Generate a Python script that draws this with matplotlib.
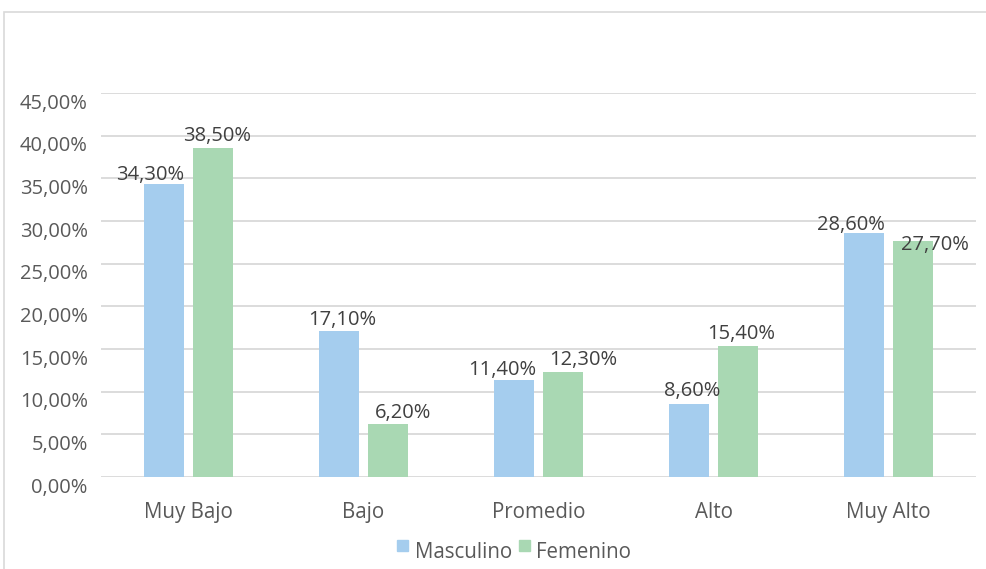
import matplotlib
matplotlib.use("Agg")
import matplotlib.pyplot as plt
from matplotlib.patches import Rectangle
from matplotlib.ticker import FuncFormatter
from matplotlib.transforms import ScaledTranslation
import numpy as np

categories = ["Muy Bajo", "Bajo", "Promedio", "Alto", "Muy Alto"]
masculino = [34.30, 17.10, 11.40, 8.60, 28.60]
femenino = [38.50, 6.20, 12.30, 15.40, 27.70]
series_names = ["Masculino", "Femenino"]

# label nudges (pixels) so neighbouring value labels don't collide
nudge_m = [(-14, 9), (3, 11), (-12, 10), (3, 13), (-13, 8)]
nudge_f = [(4, 12), (15, 11), (20, 12), (3, 12), (22, -4)]

blue = "#A5CDEE"
green = "#A9D8B3"
text_color = "#595959"
value_color = "#404040"
grid_color = "#D9D9D9"

plt.rcParams["font.family"] = ["Open Sans", "DejaVu Sans"]

W, H = 986, 569
fig = plt.figure(figsize=(W / 100, H / 100), dpi=100)

def fx(px):
    return px / W

def fy(py):
    return 1 - py / H

# chart-area border
fig.patches.append(Rectangle((fx(4), -0.05), 1.1, fy(12) + 0.05,
                             transform=fig.transFigure, fill=False,
                             edgecolor="#D9D9D9", linewidth=1.2))

ax = fig.add_axes([fx(101), fy(477), 875 / W, 384 / H])

x = np.arange(len(categories))
bw = 0.2286
off = 0.14
xm = x - off
xf = x + off
ax.bar(xm, masculino, width=bw, color=blue, zorder=2)
ax.bar(xf, femenino, width=bw, color=green, zorder=2)

def fmt(v):
    return f"{v:.2f}".replace(".", ",") + "%"

fs_num = 14.5
fs_txt = 14.8
for xs, vals, nudges in ((xm, masculino, nudge_m), (xf, femenino, nudge_f)):
    for xi, v, (dx, dy) in zip(xs, vals, nudges):
        ax.annotate(fmt(v), (xi, v), xytext=(dx, dy), textcoords="offset pixels",
                    ha="center", va="center", fontsize=fs_num,
                    color=value_color, zorder=3)

ax.set_xlim(-0.5, len(categories) - 0.5)
ax.set_ylim(0, 45)
ax.set_yticks(np.arange(0, 45.1, 5))
ax.yaxis.set_major_formatter(FuncFormatter(lambda v, p: fmt(v)))
ax.set_xticks(x)
ax.set_xticklabels(categories)
ax.tick_params(axis="y", length=0, labelsize=fs_num, colors=text_color, pad=9.5)
ax.tick_params(axis="x", length=0, labelsize=fs_txt, colors=text_color, pad=18)
ax.grid(axis="y", color=grid_color, linewidth=1.3, zorder=0)
for s in ax.spines.values():
    s.set_visible(False)

shift = ScaledTranslation(0, -8 / 100, fig.dpi_scale_trans)
for t in ax.yaxis.get_major_ticks():
    t.label1.set_transform(t.label1.get_transform() + shift)

# legend: small squares with series names
legend_items = [(397, 415, blue), (519, 536, green)]
for (sq_x, tx, col), name in zip(legend_items, series_names):
    fig.patches.append(Rectangle((fx(sq_x), fy(551)), 11 / W, 11 / H,
                                 transform=fig.transFigure, color=col))
    fig.text(fx(tx), fy(552), name, ha="left", va="center",
             fontsize=fs_txt, color=text_color)

fig.savefig("out.png", dpi=100)
